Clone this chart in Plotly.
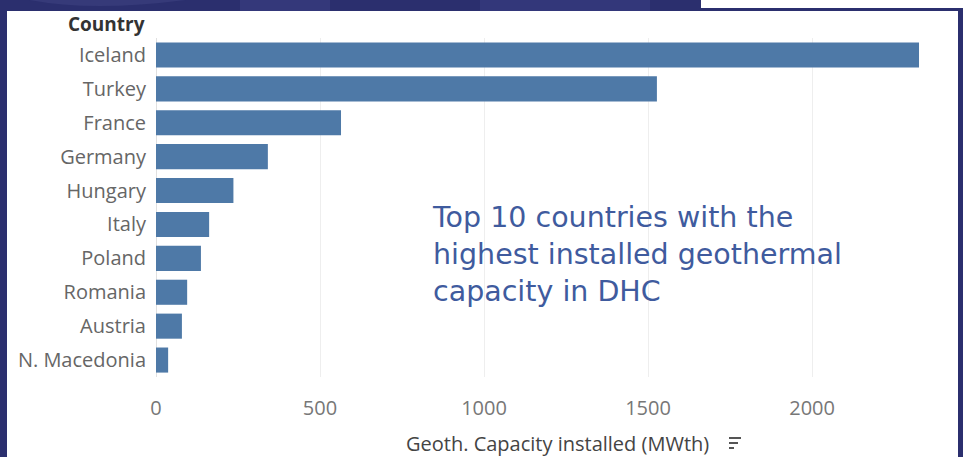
import plotly.graph_objects as go

countries = ["Iceland", "Turkey", "France", "Germany", "Hungary", "Italy",
             "Poland", "Romania", "Austria", "N. Macedonia"]
capacity = [2326, 1527, 564, 341, 236, 162, 137, 95, 79, 37]
x_ticks = [0, 500, 1000, 1500, 2000]

W, H = 963, 457
L, R, T, B = 156, 23, 38, 80
PW, PH = W - L - R, H - T - B

def px(x):
    return (x - L) / PW

def py(y):
    return (H - B - y) / PH

NAVY = "#2b2f6e"
BAR = "#4e79a7"
FONT = "Open Sans, sans-serif"

fig = go.Figure(go.Bar(
    x=capacity, y=countries, orientation="h",
    marker=dict(color=BAR, line=dict(width=0)),
    hoverinfo="x+y",
))

shapes = [
    dict(type="rect", xref="paper", yref="paper", x0=px(7), x1=px(958),
         y0=py(460), y1=py(11), fillcolor="white", line=dict(width=0), layer="below"),
    dict(type="rect", xref="paper", yref="paper", x0=px(701), x1=px(965),
         y0=py(8), y1=py(-2), fillcolor="white", line=dict(width=0), layer="below"),
    dict(type="path", xref="paper", yref="paper",
         path=f"M {px(20)},{py(-2)} Q {px(90)},{py(14)} {px(200)},{py(-2)} Z",
         fillcolor="#363a79", line=dict(width=0), layer="below"),
    dict(type="rect", xref="paper", yref="paper", x0=px(240), x1=px(330),
         y0=py(11), y1=py(-2), fillcolor="#34387a", line=dict(width=0), layer="below"),
    dict(type="rect", xref="paper", yref="paper", x0=px(480), x1=px(650),
         y0=py(11), y1=py(-2), fillcolor="#33377a", line=dict(width=0), layer="below"),
]
for i, w in enumerate([12, 9, 5]):
    shapes.append(dict(type="rect", xref="paper", yref="paper",
                       x0=px(729), x1=px(729 + w),
                       y0=py(437 + i * 5 + 2), y1=py(437 + i * 5),
                       fillcolor="#555555", line=dict(width=0), layer="above"))

fig.update_layout(
    width=W, height=H,
    margin=dict(l=L, r=R, t=T, b=B, pad=0),
    paper_bgcolor=NAVY,
    plot_bgcolor="white",
    showlegend=False,
    bargap=0.26,
    font=dict(family=FONT),
    xaxis=dict(
        range=[0, 2390], tickvals=x_ticks, ticktext=[str(v) for v in x_ticks],
        showgrid=True, gridcolor="#eeeeee", gridwidth=1,
        zeroline=True, zerolinecolor="#e0e0e0", zerolinewidth=1,
        showline=False, ticks="", ticklabelstandoff=17,
        tickfont=dict(size=20, color="#777777", family=FONT),
        fixedrange=True,
    ),
    yaxis=dict(
        categoryorder="array", categoryarray=countries, autorange="reversed",
        showgrid=False, zeroline=False, showline=False, ticks="",
        ticklabelstandoff=9,
        tickfont=dict(size=20, color="#666666", family=FONT),
        fixedrange=True,
    ),
    shapes=shapes,
    annotations=[
        dict(text="Country", xref="paper", yref="paper", x=px(147), y=py(24),
             xanchor="right", yanchor="middle", showarrow=False,
             font=dict(size=19, color="#333333", family=FONT, weight="bold")),
        dict(text="Geoth. Capacity installed (MWth)", xref="paper", yref="paper",
             x=px(557), y=py(443), xanchor="center", yanchor="middle", showarrow=False,
             font=dict(size=20, color="#444444", family=FONT)),
        dict(text="Top 10 countries with the<br>highest installed geothermal<br>capacity in DHC",
             xref="paper", yref="paper", x=px(430), y=py(254), xanchor="left",
             yanchor="middle", align="left", showarrow=False,
             font=dict(size=28.5, color="#3f5b9e", family="DejaVu Sans, sans-serif")),
    ],
)

fig.write_html("out.html")
